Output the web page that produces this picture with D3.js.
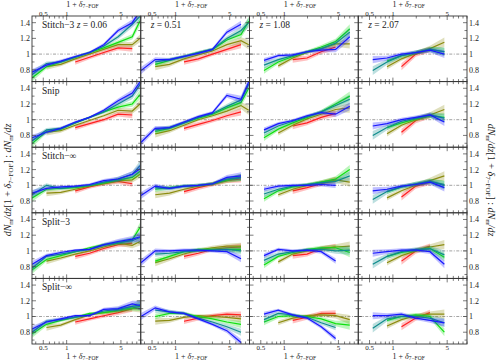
<!DOCTYPE html>
<html>
<head>
<meta charset="utf-8">
<script src="https://cdn.jsdelivr.net/npm/d3@7"></script>
<style>
  body { margin: 0; background: #fff; }
  text { font-family: "Liberation Serif", "DejaVu Serif", serif; fill: #222; }
</style>
</head>
<body>
<script>
// density bins (1 + delta), shared by all panels
var xGrid = [0.36, 0.55, 0.84, 1.29, 1.97, 3.0, 4.6, 7.0, 8.8];

var rowNames = ["Stitch\u22123", "Snip", "Stitch\u2212\u221e", "Split\u22123", "Split\u2212\u221e"];
var redshifts = ["0.06", "0.51", "1.08", "2.07"];
var seriesColors = ["#ff2020", "#8c8c10", "#10e010", "#108c8c", "#1a1aff"]; // red, olive, green, teal, blue

var xTickLabels = [0.5, 1, 5];
var yTickLabels = [0.8, 1, 1.2, 1.4];

// each row: 4 columns (z), each column: [red, olive, green, teal, blue]
var stitch3 = [
  [[null,null,null,0.90,0.96,1.02,1.08,1.07,null],
   [null,0.84,0.87,0.94,1.00,1.06,1.12,1.12,1.20],
   [0.70,0.84,0.90,0.96,1.02,1.08,1.15,1.22,1.42],
   [0.74,0.88,0.90,0.96,1.02,1.10,1.22,1.38,1.48],
   [0.77,0.86,0.91,0.97,1.02,1.12,1.30,1.40,1.55]],
  [[null,null,null,0.90,0.94,1.00,1.06,1.12,null],
   [null,0.84,0.87,0.94,0.99,1.04,1.12,1.17,1.12],
   [null,0.87,0.92,0.97,1.02,1.06,1.18,1.25,1.42],
   [null,0.90,0.93,0.97,1.02,1.06,1.20,1.30,1.40],
   [0.79,0.93,0.93,0.97,1.01,1.06,1.28,1.38,null]],
  [[null,null,null,0.93,0.95,1.03,1.09,null,null],
   [null,null,0.85,0.95,1.02,1.07,1.13,1.13,null],
   [null,0.79,0.90,0.97,1.03,1.09,1.16,1.32,null],
   [null,0.86,0.93,0.98,1.03,1.07,1.14,1.28,null],
   [null,0.92,0.98,0.99,1.03,1.05,1.06,1.22,null]],
  [[null,null,null,0.84,1.00,1.06,null,null,null],
   [null,null,0.84,0.94,1.01,1.07,1.15,null,null],
   [null,null,0.91,0.98,1.02,1.06,1.03,null,null],
   [null,0.79,0.90,0.98,1.02,1.06,1.03,null,null],
   [null,0.93,0.95,1.00,1.02,1.05,1.00,null,null]]
];

var snip = [
  [[null,null,null,0.90,0.95,1.00,1.07,1.06,null],
   [null,0.84,0.86,0.93,0.99,1.05,1.12,1.11,1.20],
   [0.70,0.85,0.88,0.96,1.03,1.10,1.16,1.20,1.32],
   [0.73,0.87,0.89,0.96,1.03,1.10,1.20,1.30,1.45],
   [0.77,0.84,0.89,0.97,1.03,1.12,1.24,1.34,1.48]],
  [[null,null,null,0.89,0.94,0.99,1.05,1.10,null],
   [null,0.82,0.86,0.93,1.00,1.05,1.11,1.18,1.12],
   [null,0.85,0.89,0.96,1.02,1.07,1.15,1.22,1.40],
   [null,0.87,0.90,0.96,1.03,1.08,1.17,1.25,1.45],
   [0.71,0.89,0.90,0.97,1.04,1.09,1.31,1.26,1.48]],
  [[null,null,null,0.92,0.96,1.03,1.08,null,null],
   [null,null,0.83,0.93,1.01,1.07,1.13,1.15,null],
   [null,0.77,0.88,0.96,1.03,1.10,1.20,1.30,null],
   [null,0.83,0.92,0.98,1.04,1.10,1.18,1.26,null],
   [null,0.87,0.95,0.99,1.05,1.09,1.07,1.17,null]],
  [[null,null,null,0.84,0.99,1.05,null,null,null],
   [null,null,0.82,0.93,1.00,1.06,1.13,null,null],
   [null,null,0.90,0.96,1.01,1.05,1.03,null,null],
   [null,0.80,0.90,0.98,1.02,1.06,1.02,null,null],
   [null,0.92,0.95,1.00,1.03,1.06,0.97,null,null]]
];

var stitchInf = [
  [[null,null,null,0.93,0.98,1.02,1.05,1.02,null],
   [null,0.90,0.91,0.95,0.99,1.02,1.06,1.07,1.14],
   [0.84,0.95,0.96,0.97,1.00,1.03,1.07,1.10,1.18],
   [0.88,1.00,0.96,0.98,1.00,1.04,1.08,1.14,1.25],
   [0.90,0.96,0.98,0.99,1.01,1.06,1.08,1.14,1.21]],
  [[null,null,null,0.92,0.97,1.01,1.06,1.08,null],
   [null,0.88,0.90,0.95,0.99,1.02,1.06,1.10,null],
   [null,0.95,0.97,0.99,1.00,1.02,1.07,1.10,null],
   [null,0.97,0.96,0.99,1.00,1.02,1.08,1.10,null],
   [0.87,0.99,0.96,0.99,1.00,1.02,1.10,1.12,null]],
  [[null,null,null,0.93,0.97,1.02,1.07,null,null],
   [null,null,0.88,0.95,1.00,1.04,1.07,1.04,null],
   [null,0.83,0.93,0.98,1.01,1.04,1.08,1.20,null],
   [null,0.89,0.95,0.99,1.01,1.03,1.05,1.12,null],
   [null,0.95,0.99,1.00,1.00,1.01,1.00,null,null]],
  [[null,null,null,0.85,0.99,1.04,null,null,null],
   [null,null,0.84,0.93,1.00,1.06,1.12,null,null],
   [null,null,0.92,0.98,1.02,1.05,1.01,null,null],
   [null,0.82,0.92,0.98,1.02,1.05,1.00,null,null],
   [null,0.93,0.95,0.99,1.01,1.04,0.97,null,null]]
];

var split3 = [
  [[null,null,null,0.93,0.97,1.03,1.08,1.10,null],
   [null,0.87,0.91,0.96,1.00,1.05,1.10,1.07,1.12],
   [0.76,0.89,0.94,0.99,1.04,1.08,1.10,1.14,1.30],
   [0.78,0.93,0.96,0.99,1.02,1.07,1.11,1.13,1.17],
   [0.83,0.94,0.98,1.01,1.02,1.08,1.12,1.15,1.18]],
  [[null,null,null,0.93,0.97,1.02,1.04,1.05,null],
   [null,0.85,0.90,0.96,1.01,1.04,1.06,1.06,null],
   [null,0.87,0.93,0.99,1.02,1.02,1.02,1.02,null],
   [null,0.96,0.97,0.99,1.00,1.01,1.02,1.00,null],
   [0.85,1.00,1.00,1.01,1.01,1.00,0.99,0.90,null]],
  [[null,null,null,0.94,0.96,1.03,1.05,null,null],
   [null,null,0.86,0.96,1.00,1.03,1.05,1.06,null],
   [null,0.82,0.93,0.98,1.02,1.04,1.04,0.98,null],
   [null,0.88,0.96,0.99,1.01,1.02,1.00,1.01,null],
   [null,0.94,1.02,1.00,1.01,0.99,0.87,null,null]],
  [[null,null,null,0.87,1.00,1.06,null,null,null],
   [null,null,0.85,0.94,1.00,1.05,1.08,null,null],
   [null,null,0.93,0.98,1.01,1.03,0.92,null,null],
   [null,0.83,0.93,0.99,1.02,1.03,0.95,null,null],
   [null,0.97,0.99,1.01,1.01,0.99,0.83,null,null]]
];

var splitInf = [
  [[null,null,null,0.93,0.97,1.01,1.05,1.10,null],
   [null,0.86,0.89,0.96,1.02,1.05,1.07,1.10,1.10],
   [0.78,0.90,0.95,0.99,1.04,1.05,1.08,1.11,1.13],
   [0.80,0.94,0.96,0.99,1.02,1.07,1.09,1.13,1.15],
   [0.84,0.93,0.97,1.01,1.01,1.09,1.10,1.16,1.14]],
  [[null,null,null,0.94,0.98,1.01,1.03,1.02,null],
   [null,0.94,0.95,0.99,1.01,1.00,0.99,0.97,null],
   [null,1.00,1.04,1.04,1.00,0.97,0.93,0.90,null],
   [null,1.08,1.06,1.04,0.98,0.93,0.87,0.80,null],
   [1.00,1.11,1.06,1.04,0.97,0.90,0.82,0.67,null]],
  [[null,null,null,0.95,0.99,1.04,1.04,null,null],
   [null,null,0.92,0.98,1.01,1.02,1.01,0.96,null],
   [null,0.93,1.00,1.01,1.00,0.97,0.91,0.89,null],
   [null,0.96,1.04,1.02,0.99,0.92,0.86,null,null],
   [null,1.03,1.08,1.02,0.98,0.87,0.72,null,null]],
  [[null,null,null,0.87,0.98,1.05,null,null,null],
   [null,null,0.88,0.96,1.01,1.03,1.03,null,null],
   [null,null,0.95,1.00,1.02,1.00,0.80,null,null],
   [null,0.85,0.97,1.00,1.00,0.98,0.92,null,null],
   [null,1.01,1.01,1.03,0.98,0.95,0.92,null,null]]
];

// half-width of the shaded band, per redshift column: [red, olive, green, teal, blue]
var errZ006 = [
  [0,0,0,0.035,0.025,0.025,0.03,0.04,0],
  [0,0.04,0.025,0.02,0.015,0.02,0.03,0.035,0.05],
  [0.05,0.025,0.02,0.015,0.015,0.02,0.025,0.035,0.06],
  [0.05,0.025,0.02,0.015,0.015,0.02,0.03,0.04,0.06],
  [0.04,0.025,0.02,0.015,0.015,0.02,0.03,0.04,0.06]];
var errZ051 = [
  [0,0,0,0.035,0.03,0.025,0.03,0.045,0],
  [0,0.045,0.03,0.02,0.02,0.025,0.03,0.045,0.06],
  [0,0.035,0.025,0.02,0.02,0.02,0.03,0.045,0.06],
  [0,0.035,0.025,0.02,0.02,0.02,0.03,0.045,0.06],
  [0.045,0.03,0.02,0.02,0.02,0.02,0.03,0.045,0.06]];
var errZ108 = [
  [0,0,0,0.04,0.03,0.03,0.04,0,0],
  [0,0,0.03,0.025,0.02,0.025,0.035,0.06,0],
  [0,0.04,0.025,0.02,0.02,0.025,0.035,0.06,0],
  [0,0.045,0.025,0.02,0.02,0.025,0.035,0.06,0],
  [0,0.03,0.02,0.02,0.02,0.025,0.035,0.05,0]];
var errZ207 = [
  [0,0,0,0.045,0.035,0.035,0,0,0],
  [0,0,0.035,0.025,0.025,0.035,0.06,0,0],
  [0,0,0.03,0.025,0.025,0.03,0.05,0,0],
  [0,0.055,0.035,0.025,0.025,0.035,0.055,0,0],
  [0,0.045,0.03,0.025,0.025,0.03,0.05,0,0]];

var rows = [stitch3, snip, stitchInf, split3, splitInf];
var errs = [errZ006, errZ051, errZ108, errZ207];

// layout (don't call it "top", that's window.top)
var W = 500, H = 361;
var mLeft = 32, mTop = 16;
var pw = 108.75, ph = 65.6;

var svg = d3.select("body").append("svg")
    .attr("width", W)
    .attr("height", H);

var x = d3.scaleLog().domain([0.358, 9.0]).range([0, pw]);
var y = d3.scaleLinear().domain([0.65, 1.485]).range([ph, 0]);

var line = d3.line()
    .x(function(d) { return x(d.x); })
    .y(function(d) { return y(d.y); });
var area = d3.area()
    .x(function(d) { return x(d.x); })
    .y0(function(d) { return y(d.y - d.e); })
    .y1(function(d) { return y(d.y + d.e); });

var xMinor = [0.4,0.5,0.6,0.7,0.8,0.9,1,2,3,4,5,6,7,8,9];
var yMinor = [0.7,0.8,0.9,1.0,1.1,1.2,1.3,1.4];

svg.append("defs").append("clipPath").attr("id", "clip")
  .append("rect").attr("width", pw).attr("height", ph);

rows.forEach(function(rowData, r) {
  rowData.forEach(function(colData, c) {
    var g = svg.append("g")
        .attr("transform", "translate(" + (mLeft + c * pw) + "," + (mTop + r * ph) + ")");

    // reference line at 1
    g.append("line")
        .attr("x1", 0).attr("x2", pw)
        .attr("y1", y(1)).attr("y2", y(1))
        .attr("stroke", "#999")
        .attr("stroke-width", 0.9)
        .attr("stroke-dasharray", "3,1.5,1,1.5");

    var plot = g.append("g").attr("clip-path", "url(#clip)");
    colData.forEach(function(vals, s) {
      var pts = [];
      vals.forEach(function(v, i) {
        if (v != null) pts.push({ x: xGrid[i], y: v, e: errs[c][s][i] });
      });
      plot.append("path")
          .attr("d", area(pts))
          .attr("fill", seriesColors[s])
          .attr("fill-opacity", 0.28);
      plot.append("path")
          .attr("d", line(pts))
          .attr("fill", "none")
          .attr("stroke", seriesColors[s])
          .attr("stroke-width", 1.2);
    });

    // ticks, pointing inward
    xMinor.forEach(function(t) {
      var len = (t === 1 || t === 0.5 || t === 5) ? 4 : 2.5;
      g.append("line").attr("x1", x(t)).attr("x2", x(t)).attr("y1", 0).attr("y2", len)
          .attr("stroke", "#444").attr("stroke-width", 0.7);
      g.append("line").attr("x1", x(t)).attr("x2", x(t)).attr("y1", ph).attr("y2", ph - len)
          .attr("stroke", "#444").attr("stroke-width", 0.7);
    });
    yMinor.forEach(function(t) {
      var major = yTickLabels.some(function(v) { return Math.abs(v - t) < 1e-6; });
      var len = major ? 4 : 2.5;
      g.append("line").attr("x1", 0).attr("x2", len).attr("y1", y(t)).attr("y2", y(t))
          .attr("stroke", "#444").attr("stroke-width", 0.7);
      g.append("line").attr("x1", pw).attr("x2", pw - len).attr("y1", y(t)).attr("y2", y(t))
          .attr("stroke", "#444").attr("stroke-width", 0.7);
    });

    g.append("rect")
        .attr("width", pw).attr("height", ph)
        .attr("fill", "none")
        .attr("stroke", "#333")
        .attr("stroke-width", 0.9);

    // panel label
    var lab = g.append("text").attr("x", 10).attr("y", 12).attr("font-size", 9.5);
    if (c === 0) lab.append("tspan").text(rowNames[r] + " ");
    if (r === 0) {
      lab.append("tspan").attr("font-style", "italic").text("z");
      lab.append("tspan").text(" = " + redshifts[c]);
    }

    // y tick labels on outer columns
    if (c === 0 || c === 3) {
      yTickLabels.forEach(function(t) {
        g.append("text")
            .attr("x", c === 0 ? -2 : pw + 2)
            .attr("y", y(t) + 3)
            .attr("text-anchor", c === 0 ? "end" : "start")
            .attr("font-size", 8)
            .text(t);
      });
    }
    // x tick labels and titles on outer rows
    if (r === 0 || r === 4) {
      var ty = r === 0 ? -0.5 : ph + 6.3;
      xTickLabels.forEach(function(t) {
        g.append("text")
            .attr("x", x(t)).attr("y", ty)
            .attr("text-anchor", "middle")
            .attr("font-size", 7)
            .text(t);
      });
      var tt = g.append("text")
          .attr("x", pw / 2 - 4)
          .attr("y", r === 0 ? -8.7 : ph + 15)
          .attr("text-anchor", "middle")
          .attr("font-size", 8);
      tt.append("tspan").text("1 + ");
      tt.append("tspan").attr("font-style", "italic").text("\u03b4");
      tt.append("tspan").attr("font-size", 5.5).attr("dy", 0.8).text("7\u2212FOF");
    }
  });
});

// side titles
function yTitle(sel) {
  sel.append("tspan").attr("font-style", "italic").text("dN");
  sel.append("tspan").attr("font-size", 7).attr("dy", 2).text("m");
  sel.append("tspan").attr("dy", -2).attr("font-style", "italic").text("/dz");
  sel.append("tspan").text("[1 + ");
  sel.append("tspan").attr("font-style", "italic").text("\u03b4");
  sel.append("tspan").attr("font-size", 7).attr("dy", 2).text("7\u2212FOF");
  sel.append("tspan").attr("dy", -2).text("] : ");
  sel.append("tspan").attr("font-style", "italic").text("dN");
  sel.append("tspan").attr("font-size", 7).attr("dy", 2).text("m");
  sel.append("tspan").attr("dy", -2).attr("font-style", "italic").text("/dz");
}
var midY = mTop + 2.5 * ph;
yTitle(svg.append("text")
    .attr("transform", "translate(11," + midY + ") rotate(-90)")
    .attr("text-anchor", "middle")
    .attr("font-size", 10));
yTitle(svg.append("text")
    .attr("transform", "translate(488," + midY + ") rotate(90)")
    .attr("text-anchor", "middle")
    .attr("font-size", 10));
</script>
</body>
</html>
